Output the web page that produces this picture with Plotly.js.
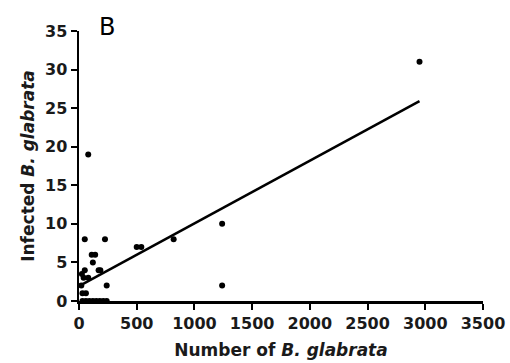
<!DOCTYPE html>
<html>
<head>
<meta charset="utf-8">
<script src="https://cdn.plot.ly/plotly-3.0.1.min.js"></script>
<style>html,body{margin:0;padding:0;background:#fff;}#chart{width:510px;height:363px;}</style>
</head>
<body>
<div id="chart"></div>
<script>
// Observed snails (total vs infected)
var snailsTotal = [2950, 1240, 1240, 820, 500, 540, 80, 50, 225, 110, 140, 120, 50, 170, 185, 40, 80, 240, 20, 30, 60, 25, 30, 60, 90, 120, 150, 180, 210, 240];
var snailsInfected = [31, 10, 2, 8, 7, 7, 19, 8, 8, 6, 6, 5, 4, 4, 4, 3, 3, 2, 2, 1, 1, 3.5, 0, 0, 0, 0, 0, 0, 0, 0];
// Regression line endpoints
var fitX = [20, 2950];
var fitY = [2.1, 25.9];
var xTicks = [0, 500, 1000, 1500, 2000, 2500, 3000, 3500];
var yTicks = [0, 5, 10, 15, 20, 25, 30, 35];

var fam = 'DejaVu Sans, Liberation Sans, Arial, sans-serif';
var tickFont = {family: fam, color: '#1a1a1a', size: 16};
var titleFont = {family: fam, color: '#1a1a1a', size: 17};

Plotly.newPlot('chart', [
  {x: snailsTotal, y: snailsInfected, mode: 'markers', type: 'scatter',
   marker: {color: '#000', size: 6}, cliponaxis: false, hoverinfo: 'none'},
  {x: fitX, y: fitY, mode: 'lines', type: 'scatter',
   line: {color: '#000', width: 2.5}, hoverinfo: 'none'}
], {
  width: 510, height: 363,
  margin: {l: 79, r: 27, t: 31, b: 62},
  paper_bgcolor: '#fff', plot_bgcolor: '#fff',
  showlegend: false,
  font: {family: fam, color: '#1a1a1a', size: 16},
  xaxis: {range: [0, 3500], tickvals: xTicks, ticktext: xTicks.map(function(v){return '<b>' + v + '</b>';}),
    showgrid: false, zeroline: false, showline: true, linecolor: '#000', linewidth: 2.5,
    ticks: 'outside', ticklen: 6, tickwidth: 2, tickcolor: '#000',
    tickfont: tickFont, automargin: false,
    title: {text: '<b>Number of <i>B. glabrata</i></b>', font: titleFont, standoff: 13}},
  yaxis: {range: [0, 35], tickvals: yTicks, ticktext: yTicks.map(function(v){return '<b>' + v + '</b>';}),
    showgrid: false, zeroline: false, showline: true, linecolor: '#000', linewidth: 2.5,
    ticks: 'outside', ticklen: 6, tickwidth: 2, tickcolor: '#000',
    tickfont: tickFont, automargin: false,
    title: {text: '<b>Infected <i>B. glabrata</i></b>', font: titleFont, standoff: 6}},
  annotations: [{text: 'B', x: 0.045, y: 1.075, xref: 'paper', yref: 'paper', showarrow: false,
    font: {family: fam, size: 24, color: '#000'}}]
}, {staticPlot: true});
</script>
</body>
</html>
